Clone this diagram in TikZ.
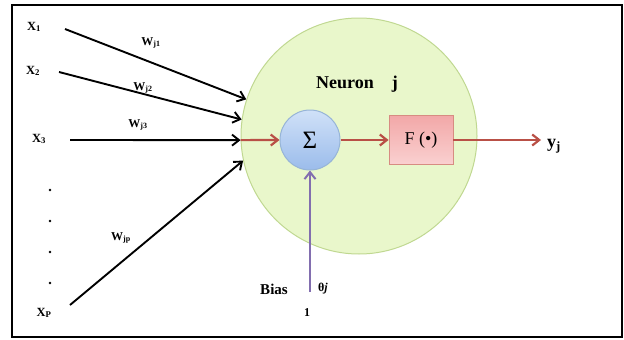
\documentclass[tikz,border=0pt]{standalone}
\usepackage{fontspec}
\setmainfont{Liberation Serif}
\usetikzlibrary{arrows.meta}

\definecolor{neurfill}{RGB}{233,247,203}
\definecolor{neurdraw}{RGB}{192,216,145}
\definecolor{sumtop}{RGB}{208,225,248}
\definecolor{sumbot}{RGB}{155,188,235}
\definecolor{sumdraw}{RGB}{150,180,215}
\definecolor{acttop}{RGB}{242,168,168}
\definecolor{actbot}{RGB}{250,208,208}
\definecolor{actdraw}{RGB}{215,140,130}
\definecolor{sigred}{RGB}{185,80,70}
\definecolor{biasline}{RGB}{130,110,175}

\begin{document}
\begin{tikzpicture}[x=1pt, y=-1pt, >={Straight Barb[length=7pt,width=11pt]},
    xlbl/.style={font=\bfseries\fontsize{12.5}{12.5}\selectfont, inner sep=0pt},
    wlbl/.style={font=\bfseries\fontsize{12}{12}\selectfont, inner sep=0pt},
    inarrow/.style={->, line width=1.9pt, black},
    sigarrow/.style={->, line width=2.2pt, sigred}]
    \useasboundingbox (0,0) rectangle (624,340);
    \draw[line width=2.5pt] (12,5) rectangle (622,337);

    \node[circle, draw=neurdraw, fill=neurfill, line width=1pt, minimum size=236pt, inner sep=0pt] (neuron) at (359,136) {};
    \node[font=\bfseries\fontsize{18}{18}\selectfont] (title) at (357,84) {Neuron\quad j};
    \node[circle, draw=sumdraw, top color=sumtop, bottom color=sumbot, line width=1pt, minimum size=60pt, inner sep=0pt, font=\fontsize{25}{25}\selectfont] (sum) at (310,140) {Σ};
    \node[draw=actdraw, top color=acttop, bottom color=actbot, line width=0.8pt, minimum width=64pt, minimum height=49pt, inner sep=0pt, font=\fontsize{18}{18}\selectfont] (act) at (421,140) {F (\textbullet)};

    % inputs
    \node[xlbl] (x1) at (34,27) {X\textsubscript{1}};
    \node[xlbl] (x2) at (33,71) {X\textsubscript{2}};
    \node[xlbl] (x3) at (39,139) {X\textsubscript{3}};
    \node[xlbl] (xp) at (44,313) {X\textsubscript{P}};
    \foreach \y in {190,221,252,283}
      \fill (50,\y) circle (1.4pt);
    \coordinate (a1) at (65,29);
    \coordinate (a2) at (59,72);
    \coordinate (a3) at (70,140);
    \coordinate (ap) at (70,305);

    \node[wlbl] (w1) at (151,43) {W\textsubscript{j1}};
    \node[wlbl] (w2) at (143,88) {W\textsubscript{j2}};
    \node[wlbl] (w3) at (138,125) {W\textsubscript{j3}};
    \node[wlbl] (wp) at (121,238) {W\textsubscript{jp}};

    \draw[inarrow] (a1) -- (neuron.162);
    \draw[inarrow] (a2) -- (neuron.172);
    \draw[inarrow] (a3) -- (neuron.182);
    \draw[inarrow] (ap) -- (neuron.192);

    % signal path
    \coordinate (yout) at (541,140);
    \node[anchor=west, font=\bfseries\fontsize{18}{18}\selectfont, inner sep=0pt] (yj) at (547,146) {y\textsubscript{j}};
    \draw[sigarrow] (neuron.182) -- (sum.west);
    \draw[sigarrow] (sum.east) -- (act.west);
    \draw[sigarrow] (act.east) -- (yout);

    % bias
    \coordinate (b0) at (310,292);
    \draw[->, line width=2pt, biasline] (b0) -- (sum.south);
    \node[font=\bfseries\fontsize{15}{15}\selectfont, inner sep=0pt] (bias) at (274,289) {Bias};
    \node[font=\bfseries\fontsize{12}{12}\selectfont, inner sep=0pt] (theta) at (323,289) {θ\textit{j}};
    \node[font=\bfseries\fontsize{12}{12}\selectfont, inner sep=0pt] (one) at (307,313) {1};
\end{tikzpicture}
\end{document}
